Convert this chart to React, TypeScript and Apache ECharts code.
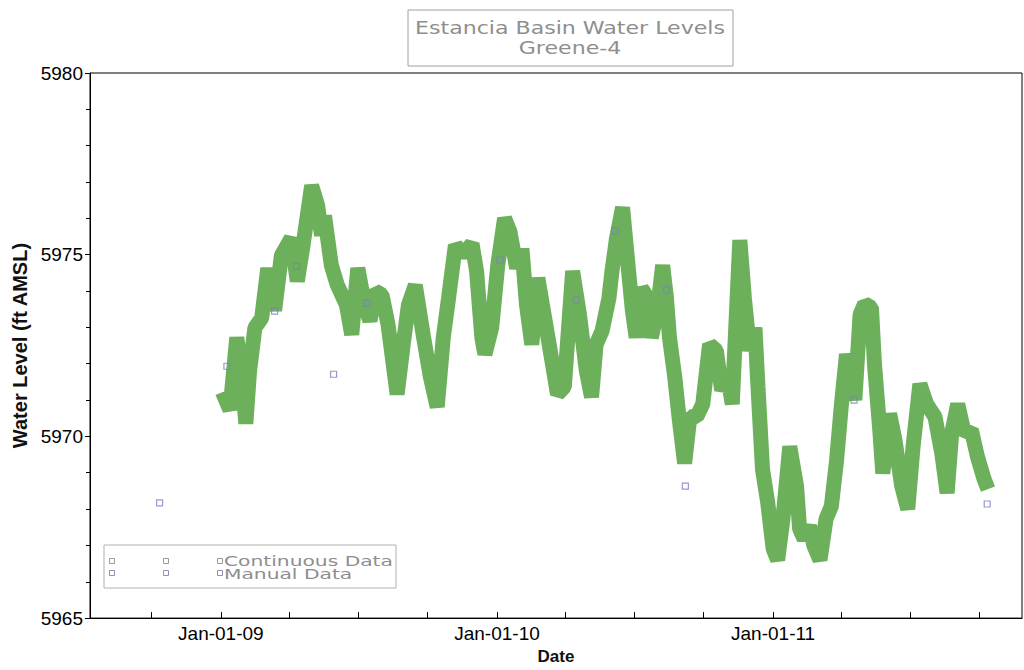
import React, { useEffect, useRef } from "react";
import * as echarts from "echarts";

const contDates = [
  "2009-01-03","2009-01-13","2009-01-22","2009-01-29","2009-02-03","2009-02-08","2009-02-15","2009-02-24","2009-03-04","2009-03-13",
  "2009-03-22","2009-04-04","2009-04-12","2009-04-19","2009-05-01","2009-05-09","2009-05-14","2009-05-18","2009-05-27","2009-06-04",
  "2009-06-16","2009-06-23","2009-07-01","2009-07-10","2009-07-17","2009-07-24","2009-08-02","2009-08-10","2009-08-22","2009-08-30",
  "2009-09-06","2009-09-15","2009-09-26","2009-10-05","2009-10-14","2009-10-22","2009-10-29","2009-11-07","2009-11-17","2009-11-29",
  "2009-12-05","2009-12-12","2009-12-16","2009-12-25","2010-01-02","2010-01-11","2010-01-18","2010-01-27","2010-02-03","2010-02-09",
  "2010-02-16","2010-02-24","2010-03-02","2010-03-11","2010-03-22","2010-03-31","2010-04-11","2010-04-20","2010-04-29","2010-05-06",
  "2010-05-12","2010-05-20","2010-05-29","2010-06-02","2010-06-08","2010-06-16","2010-06-22","2010-06-29","2010-07-04","2010-07-11",
  "2010-07-19","2010-07-24","2010-08-01","2010-08-08","2010-08-13","2010-08-17","2010-08-24","2010-08-30","2010-09-06","2010-09-13",
  "2010-09-22","2010-09-30","2010-10-09","2010-10-18","2010-10-25","2010-11-02","2010-11-08","2010-11-14","2010-11-18","2010-11-24",
  "2010-12-01","2010-12-08","2010-12-12","2010-12-18","2010-12-25","2011-01-01","2011-01-07","2011-01-14","2011-01-23","2011-02-01",
  "2011-02-05","2011-02-11","2011-02-18","2011-02-24","2011-03-04","2011-03-12","2011-03-19","2011-03-26","2011-04-01","2011-04-08",
  "2011-04-15","2011-04-19","2011-04-26","2011-05-02","2011-05-11","2011-05-15","2011-05-22","2011-05-26","2011-06-04","2011-06-11",
  "2011-06-20","2011-06-28","2011-07-05","2011-07-14","2011-07-23","2011-08-03","2011-08-12","2011-08-19","2011-08-25","2011-09-02",
  "2011-09-11","2011-09-20","2011-09-28","2011-10-07","2011-10-12"
];

const contValues = [
  5971.22,5970.73,5972.72,5971.63,5970.35,5971.82,5972.99,5973.26,5974.63,5973.46,
  5974.98,5975.45,5974.27,5975.17,5976.9,5976.35,5975.53,5976.07,5974.71,5974.16,
  5973.62,5972.8,5974.63,5973.62,5973.18,5974.0,5973.89,5973.07,5971.16,5972.53,
  5973.62,5974.16,5972.72,5971.63,5970.81,5972.72,5973.81,5975.26,5975.0,5975.3,
  5974.55,5972.72,5972.26,5972.99,5974.71,5976.0,5975.64,5974.63,5975.17,5973.62,
  5972.53,5974.36,5973.62,5972.53,5971.16,5971.36,5974.55,5973.35,5971.82,5971.08,
  5972.53,5972.91,5973.81,5974.55,5975.45,5976.3,5974.98,5973.46,5972.72,5974.08,
  5973.81,5972.72,5973.46,5974.71,5973.81,5972.72,5971.63,5970.46,5969.26,5970.54,
  5970.54,5970.89,5972.53,5972.36,5971.27,5971.63,5970.89,5973.62,5975.4,5973.81,
  5972.36,5972.99,5971.36,5969.09,5968.16,5966.91,5966.6,5967.73,5969.72,5968.63,
  5967.46,5967.18,5967.54,5966.99,5966.6,5967.73,5968.08,5969.36,5970.81,5972.26,
  5971.55,5971.0,5973.35,5973.65,5973.54,5971.98,5970.18,5968.98,5970.62,5969.91,
  5968.63,5968.0,5969.72,5971.44,5970.89,5970.54,5969.53,5968.44,5970.07,5970.89,
  5970.07,5970.18,5969.45,5968.82,5968.55
];

const manualDates = [
  "2008-10-12","2009-01-09","2009-03-13","2009-04-11","2009-05-30","2009-07-13","2010-01-05",
  "2010-04-16","2010-06-06","2010-08-13","2010-09-07","2011-04-18","2011-10-11"
];
const manualValues = [
  5968.17,5971.93,5973.45,5974.68,5971.71,5973.67,5974.85,
  5973.76,5975.66,5974.03,5968.63,5971.0,5968.14
];

const xMin = "2008-07-12";
const xMax = "2011-11-26";
const xLabelDates = ["2009-01-01", "2010-01-01", "2011-01-01"];
const xTickLabels = ["Jan-01-09", "Jan-01-10", "Jan-01-11"];
const xTickDates = [
  "2008-10-01","2009-01-01","2009-04-01","2009-07-01","2009-10-01","2010-01-01","2010-04-01",
  "2010-07-01","2010-10-01","2011-01-01","2011-04-01","2011-07-01","2011-10-01"
];

const titleLines = ["Estancia Basin Water Levels", "Greene-4"];
const legendNames = ["Continuous Data", "Manual Data"];
const yAxisName = "Water Level (ft AMSL)";
const xAxisName = "Date";

const toTs = (s: string) => {
  const [y, m, d] = s.split("-").map(Number);
  return Date.UTC(y, m - 1, d);
};

export default function App() {
  const ref = useRef<HTMLDivElement>(null);
  useEffect(() => {
    if (!ref.current) return;
    const chart = echarts.init(ref.current, null, { renderer: "svg" });
    const labelTs = xLabelDates.map(toTs);
    const font = "Liberation Sans";
    const legendSquares: any[] = [];
    [112, 166, 220].forEach((x) => {
      [561, 573].forEach((y, r) => {
        legendSquares.push({
          type: "rect",
          shape: { x: x - 2.5, y: y - 2.5, width: 5, height: 5 },
          style: { fill: "none", stroke: r === 0 ? "#9a9a9a" : "#8e90b8", lineWidth: 1 },
          z: 101,
        });
      });
    });
    chart.setOption({
      animation: false,
      backgroundColor: "#ffffff",
      grid: {
        left: 90,
        right: 2,
        top: 73,
        bottom: 47,
        show: true,
        borderColor: "#000",
        borderWidth: 1,
      },
      xAxis: {
        type: "value",
        min: toTs(xMin),
        max: toTs(xMax),
        name: xAxisName,
        nameLocation: "middle",
        nameGap: 29,
        nameTextStyle: { fontFamily: font, fontWeight: "bold", fontSize: 17, color: "#111" },
        axisLine: { lineStyle: { color: "#000", width: 1 } },
        axisTick: {
          show: true,
          inside: true,
          length: 6,
          customValues: xTickDates.map(toTs),
          lineStyle: { color: "#000", width: 1 },
        },
        axisLabel: {
          customValues: labelTs,
          fontFamily: font,
          fontSize: 19,
          color: "#000",
          margin: 6,
          formatter: (v: number) => {
            const i = labelTs.findIndex((t) => Math.abs(t - v) < 86400000);
            return i >= 0 ? xTickLabels[i] : "";
          },
        },
        splitLine: { show: false },
      },
      yAxis: {
        type: "value",
        min: 5965,
        max: 5980,
        interval: 5,
        name: yAxisName,
        nameLocation: "middle",
        nameGap: 60,
        nameRotate: 90,
        nameTextStyle: { fontFamily: font, fontWeight: "bold", fontSize: 20, color: "#111" },
        axisLine: { show: true, lineStyle: { color: "#000", width: 1 } },
        axisTick: { show: true, inside: false, length: 5, lineStyle: { color: "#000" } },
        minorTick: { show: true, splitNumber: 5, length: 4, lineStyle: { color: "#000" } },
        axisLabel: {
          fontFamily: font,
          fontSize: 19,
          color: "#000",
          margin: 7,
          formatter: (v: number) => String(v),
        },
        splitLine: { show: false },
      },
      series: [
        {
          name: legendNames[0],
          type: "line",
          data: contDates.map((d, i) => [toTs(d), contValues[i]]),
          showSymbol: false,
          symbol: "none",
          lineStyle: { color: "#6cb05c", width: 15, join: "bevel" },
          z: 2,
        },
        {
          name: legendNames[1],
          type: "scatter",
          data: manualDates.map((d, i) => [toTs(d), manualValues[i]]),
          symbol: "rect",
          symbolSize: 6,
          itemStyle: { color: "rgba(255,255,255,0)", borderColor: "#7d80c4", borderWidth: 1.2 },
          z: 3,
        },
      ],
      graphic: [
        {
          type: "rect",
          shape: { x: 408, y: 10, width: 325, height: 56 },
          style: { fill: "#ffffff", stroke: "#a0a0a0", lineWidth: 1 },
          z: 100,
        },
        {
          type: "text",
          x: 570,
          y: 28,
          scaleX: 1.3,
          style: {
            text: titleLines[0],
            fontFamily: "DejaVu Sans",
            fontSize: 17,
            fill: "#8e8e8e",
            align: "center",
            verticalAlign: "middle",
          },
          z: 101,
        },
        {
          type: "text",
          x: 570,
          y: 48,
          scaleX: 1.3,
          style: {
            text: titleLines[1],
            fontFamily: "DejaVu Sans",
            fontSize: 17,
            fill: "#8e8e8e",
            align: "center",
            verticalAlign: "middle",
          },
          z: 101,
        },
        {
          type: "rect",
          shape: { x: 104, y: 545, width: 292, height: 43 },
          style: { fill: "#ffffff", stroke: "#b0b0b0", lineWidth: 1 },
          z: 100,
        },
        ...legendSquares,
        {
          type: "text",
          x: 224,
          y: 561,
          scaleX: 1.5,
          style: {
            text: legendNames[0],
            fontFamily: "DejaVu Sans",
            fontSize: 13.5,
            fill: "#8e8e8e",
            align: "left",
            verticalAlign: "middle",
          },
          z: 101,
        },
        {
          type: "text",
          x: 224,
          y: 574,
          scaleX: 1.5,
          style: {
            text: legendNames[1],
            fontFamily: "DejaVu Sans",
            fontSize: 13.5,
            fill: "#8e8e8e",
            align: "left",
            verticalAlign: "middle",
          },
          z: 101,
        },
      ],
    });
    return () => chart.dispose();
  }, []);
  return (
    <div
      ref={ref}
      style={{ position: "absolute", left: 0, top: 0, width: 1024, height: 670, background: "#fff" }}
    />
  );
}
